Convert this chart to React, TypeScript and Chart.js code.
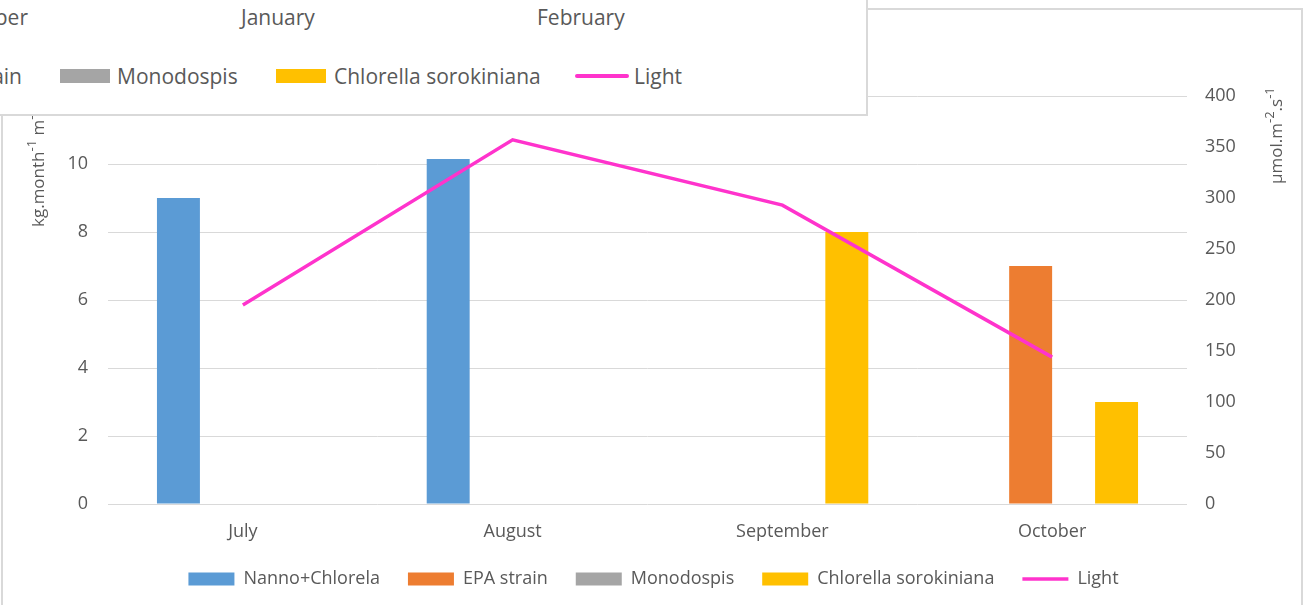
import React, { useEffect, useRef } from 'react';
import { Chart, registerables } from 'chart.js';

Chart.register(...registerables);

// ---- data ----
const months = ['July', 'August', 'September', 'October'];
const nannoChlorela = [9.0, 10.15, null, null];
const epaStrain = [null, null, null, 7.0];
const monodospis = [null, null, null, null];
const chlorellaSorokiniana = [null, null, 8.0, 3.0];
const light = [195, 357, 293, 144];

const leftMax = 12;
const leftStep = 2;
const rightMax = 400;
const rightStep = 50;

const seriesNames = ['Nanno+Chlorela', 'EPA strain', 'Monodospis', 'Chlorella sorokiniana', 'Light'];
const seriesColors = ['#5B9BD5', '#ED7D31', '#A5A5A5', '#FFC000', '#FF33CC'];

const leftTitle = [
  { t: 'kg.month', sup: false },
  { t: '-1', sup: true },
  { t: ' m', sup: false },
  { t: '-2', sup: true },
];
const rightTitle = [
  { t: 'µmol.m', sup: false },
  { t: '-2', sup: true },
  { t: '.s', sup: false },
  { t: '-1', sup: true },
];

// overlapping neighbour chart (partially visible)
const overlayMonths = ['December', 'January', 'February'];

const FONT = "'Open Sans', sans-serif";
const TEXT = '#595959';
const GRID = '#d9d9d9';

const titlePlugin = {
  id: 'axisTitles',
  afterDraw(chart: any) {
    const ctx = chart.ctx as CanvasRenderingContext2D;
    const drawRich = (segs: { t: string; sup: boolean }[], x: number, y: number, size: number) => {
      ctx.save();
      ctx.translate(x, y);
      ctx.rotate(-Math.PI / 2);
      ctx.textAlign = 'left';
      ctx.textBaseline = 'alphabetic';
      ctx.fillStyle = TEXT;
      let cx = 0;
      for (const s of segs) {
        const fs = s.sup ? Math.round(size * 0.75) : size;
        ctx.font = `${fs}px ${FONT}`;
        ctx.fillText(s.t, cx, s.sup ? -size * 0.45 : 0);
        cx += ctx.measureText(s.t).width;
      }
      ctx.restore();
    };
    drawRich(leftTitle, 44, 227, 17);
    drawRich(rightTitle, 1282, 184, 17);
  },
};

export default function App() {
  const ref = useRef<HTMLCanvasElement | null>(null);

  useEffect(() => {
    if (!ref.current) return;
    const barBase = (label: string, data: (number | null)[], color: string) => ({
      type: 'bar' as const,
      label,
      data,
      backgroundColor: color,
      borderColor: color,
      borderWidth: 0,
      yAxisID: 'y',
      categoryPercentage: 0.637,
      barPercentage: 1,
      pointStyle: 'rect',
    });
    const chart = new Chart(ref.current, {
      type: 'bar',
      data: {
        labels: months,
        datasets: [
          barBase(seriesNames[0], nannoChlorela, seriesColors[0]),
          barBase(seriesNames[1], epaStrain, seriesColors[1]),
          barBase(seriesNames[2], monodospis, seriesColors[2]),
          barBase(seriesNames[3], chlorellaSorokiniana, seriesColors[3]),
          {
            type: 'line' as const,
            label: seriesNames[4],
            data: light,
            borderColor: seriesColors[4],
            backgroundColor: seriesColors[4],
            borderWidth: 3.5,
            pointRadius: 0,
            pointHoverRadius: 0,
            pointStyle: 'line',
            yAxisID: 'y1',
            tension: 0,
            fill: false,
            order: -1,
          } as any,
        ],
      },
      options: {
        responsive: false,
        animation: false,
        layout: { padding: { top: 96, left: 0, right: 0, bottom: 0 } },
        plugins: {
          tooltip: { enabled: false },
          legend: {
            position: 'bottom',
            labels: {
              usePointStyle: true,
              pointStyleWidth: 46,
              boxHeight: 13,
              padding: 28,
              color: TEXT,
              font: { size: 18, family: FONT },
              sort: (a: any, b: any) => a.datasetIndex - b.datasetIndex,
            },
          },
        },
        scales: {
          x: {
            grid: { display: false, drawTicks: false },
            border: { display: false },
            ticks: { color: TEXT, font: { size: 18, family: FONT }, padding: 17 },
            afterFit: (s: any) => { s.height = 38; },
          },
          y: {
            position: 'left',
            min: 0,
            max: leftMax,
            grid: { color: GRID, lineWidth: 1, drawTicks: false },
            border: { display: false },
            ticks: { stepSize: leftStep, color: TEXT, font: { size: 18, family: FONT }, padding: 20 },
            afterFit: (s: any) => { s.width = 108; },
          },
          y1: {
            position: 'right',
            min: 0,
            max: rightMax,
            grid: { display: false, drawTicks: false },
            border: { display: false },
            ticks: { stepSize: rightStep, color: TEXT, font: { size: 18, family: FONT }, padding: 18 },
            afterFit: (s: any) => { s.width = 120; },
          },
        },
      } as any,
      plugins: [titlePlugin],
    });
    return () => chart.destroy();
  }, []);

  const txt = (extra: React.CSSProperties): React.CSSProperties => ({
    position: 'absolute',
    fontFamily: FONT,
    fontSize: 21,
    color: TEXT,
    whiteSpace: 'nowrap',
    lineHeight: 1,
    transform: 'translateY(-50%)',
    ...extra,
  });

  return (
    <div style={{ position: 'fixed', left: 0, top: 0, width: 1307, height: 605, overflow: 'hidden', background: '#fff' }}>
      <div
        style={{
          position: 'absolute',
          left: 1,
          top: 8,
          width: 1302,
          height: 700,
          boxSizing: 'border-box',
          border: `2px solid ${GRID}`,
        }}
      />
      <canvas
        ref={ref}
        width={1307}
        height={598}
        style={{ position: 'absolute', left: 0, top: 0, width: 1307, height: 598 }}
      />
      <div
        style={{
          position: 'absolute',
          left: 0,
          top: 0,
          width: 868,
          height: 116,
          boxSizing: 'border-box',
          background: '#fff',
          borderRight: `2px solid ${GRID}`,
          borderBottom: `2px solid ${GRID}`,
          overflow: 'hidden',
        }}
      >
        <span style={txt({ left: 28, top: 17, transform: 'translate(-100%, -50%)' })}>{overlayMonths[0]}</span>
        <span style={txt({ left: 241, top: 17 })}>{overlayMonths[1]}</span>
        <span style={txt({ left: 537, top: 17 })}>{overlayMonths[2]}</span>
        <span style={txt({ left: 22, top: 76, transform: 'translate(-100%, -50%)' })}>{seriesNames[1]}</span>
        <div style={{ position: 'absolute', left: 60, top: 69, width: 50, height: 14, background: seriesColors[2] }} />
        <span style={txt({ left: 117, top: 76 })}>{seriesNames[2]}</span>
        <div style={{ position: 'absolute', left: 276, top: 69, width: 50, height: 14, background: seriesColors[3] }} />
        <span style={txt({ left: 334, top: 76 })}>{seriesNames[3]}</span>
        <div style={{ position: 'absolute', left: 575, top: 74, width: 54, height: 4, borderRadius: 2, background: seriesColors[4] }} />
        <span style={txt({ left: 634, top: 76 })}>{seriesNames[4]}</span>
      </div>
    </div>
  );
}
